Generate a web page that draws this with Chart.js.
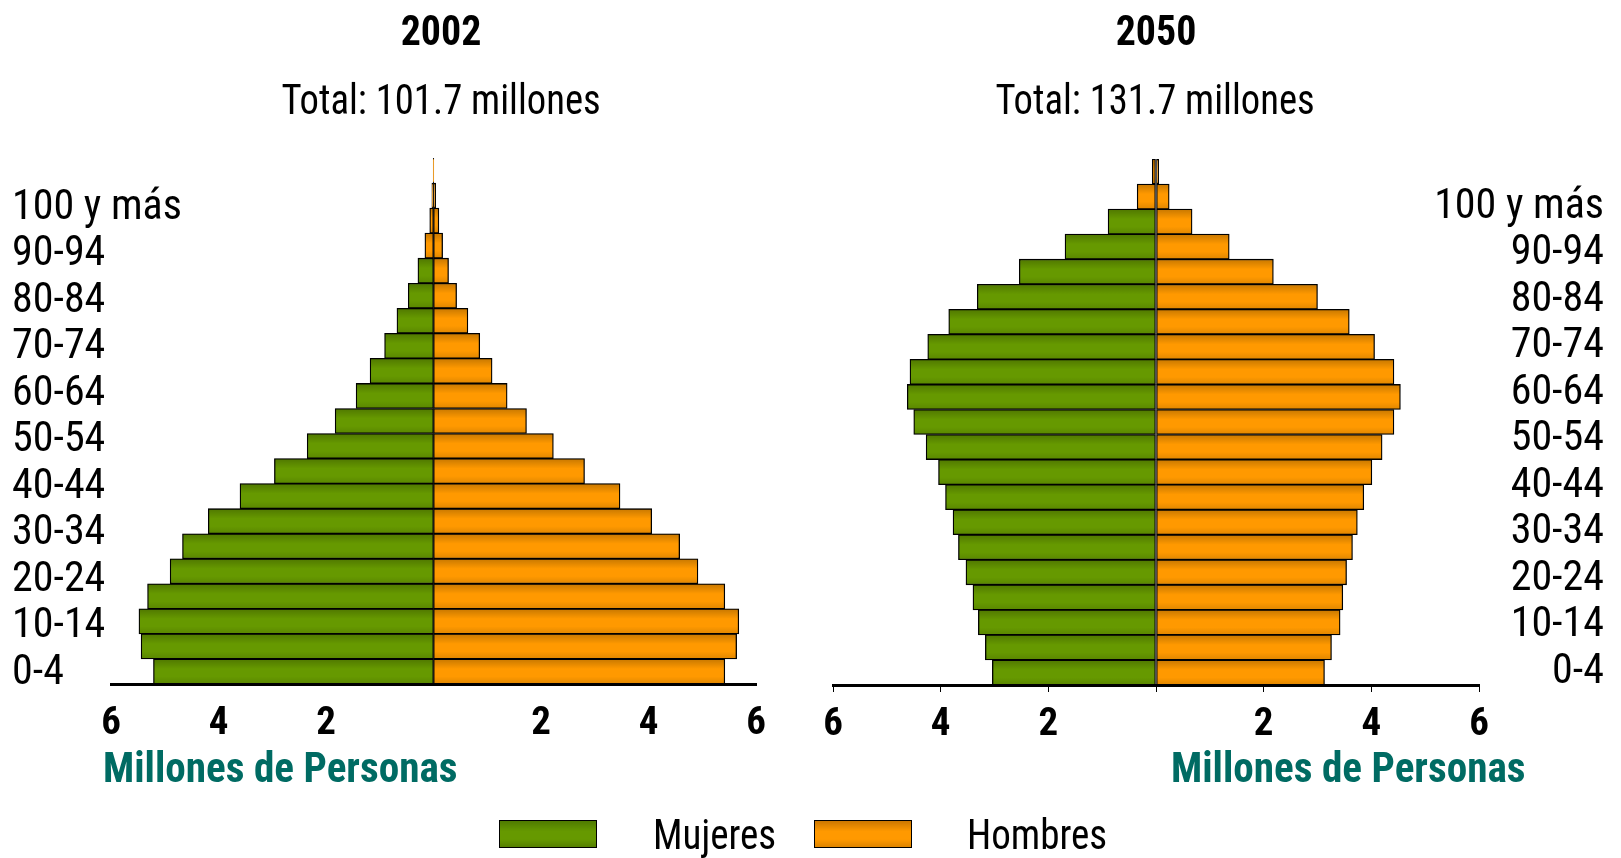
<!DOCTYPE html>
<html lang="es">
<head>
<meta charset="utf-8">
<title>Pirámides de población 2002 y 2050</title>
<script src="https://cdn.jsdelivr.net/npm/chart.js@4.4.1/dist/chart.umd.min.js"></script>
<style>
  body { margin: 0; background: #fff; }
  #page { position: relative; width: 1621px; height: 858px; overflow: hidden;
          font-family: 'Roboto Condensed', 'Open Sans Condensed', sans-serif; }
  canvas { position: absolute; top: 0; }
  .txt { position: absolute; white-space: nowrap; line-height: 48px; height: 48px; color: #000; }
  .title { font-size: 42px; font-weight: bold; text-align: center; width: 400px; transform: scaleX(0.95); }
  .sub { font-size: 42px; text-align: center; width: 500px; transform: scaleX(0.92); }
  .axisTitle { font-size: 42px; font-weight: bold; color: #006b63; transform: scaleX(0.98); transform-origin: left; }
  .legBox { position: absolute; width: 96px; height: 26px; border: 1px solid #000; }
  .legTxt { font-size: 42px; transform: scaleX(0.93); transform-origin: left; }
</style>
</head>
<body>
<div id="page">
  <canvas id="pyr2002" width="800" height="858" style="left:0"></canvas>
  <canvas id="pyr2050" width="811" height="858" style="left:810px"></canvas>

  <div class="txt title" style="left:241px; top:7px">2002</div>
  <div class="txt sub" style="left:191px; top:76px">Total: 101.7 millones</div>
  <div class="txt title" style="left:956px; top:7px">2050</div>
  <div class="txt sub" style="left:905px; top:76px">Total: 131.7 millones</div>

  <div class="txt axisTitle" style="left:103px; top:744px">Millones de Personas</div>
  <div class="txt axisTitle" style="left:1171px; top:744px">Millones de Personas</div>

  <div class="legBox" style="left:499px; top:820px; background:linear-gradient(#4f7a00,#669900 40%,#669900 70%,#557f00)"></div>
  <div class="txt legTxt" style="left:653px; top:811px">Mujeres</div>
  <div class="legBox" style="left:814px; top:820px; background:linear-gradient(#cc7700,#ff9900 40%,#ff9900 70%,#dd8400)"></div>
  <div class="txt legTxt" style="left:967px; top:811px">Hombres</div>
</div>

<script>
// age groups, youngest first
const ageGroups = ['0-4', '5-9', '10-14', '15-19', '20-24', '25-29', '30-34', '35-39', '40-44',
  '45-49', '50-54', '55-59', '60-64', '65-69', '70-74', '75-79', '80-84', '85-89', '90-94',
  '95-99', '100 y más'];
// labels shown beside each pyramid
const ageLabels = ['0-4', '10-14', '20-24', '30-34', '40-44', '50-54', '60-64', '70-74',
  '80-84', '90-94', '100 y más'];
const xTicks = [-6, -4, -2, 0, 2, 4, 6];

// millions of people
const mujeres2002 = [5.21, 5.44, 5.48, 5.32, 4.90, 4.67, 4.19, 3.60, 2.96, 2.35, 1.83, 1.44,
  1.18, 0.91, 0.68, 0.47, 0.29, 0.16, 0.07, 0.03, 0.005];
const hombres2002 = [5.42, 5.64, 5.68, 5.42, 4.92, 4.58, 4.06, 3.47, 2.81, 2.23, 1.73, 1.37,
  1.09, 0.86, 0.64, 0.43, 0.28, 0.17, 0.10, 0.04, 0.005];
const mujeres2050 = [3.04, 3.17, 3.30, 3.40, 3.53, 3.67, 3.77, 3.91, 4.04, 4.27, 4.50, 4.62,
  4.57, 4.24, 3.85, 3.32, 2.54, 1.69, 0.89, 0.35, 0.07];
const hombres2050 = [3.13, 3.26, 3.42, 3.47, 3.54, 3.65, 3.74, 3.86, 4.01, 4.20, 4.42, 4.54,
  4.42, 4.06, 3.59, 3.00, 2.18, 1.36, 0.67, 0.245, 0.05];

const GREEN = '#669900';
const ORANGE = '#ff9900';
const FONT = "'Roboto Condensed', 'Open Sans Condensed', sans-serif";

// darker bands at top and bottom of each bar, like the original's shading
const barShading = {
  id: 'barShading',
  afterDatasetsDraw(chart) {
    const ctx = chart.ctx;
    chart.data.datasets.forEach((ds, i) => {
      chart.getDatasetMeta(i).data.forEach(bar => {
        const p = bar.getProps(['x', 'y', 'base', 'height'], true);
        const w = Math.abs(p.x - p.base);
        if (w < 1) return;
        const top = p.y - p.height / 2;
        const g = ctx.createLinearGradient(0, top, 0, top + p.height);
        g.addColorStop(0, 'rgba(0,0,0,0.22)');
        g.addColorStop(0.4, 'rgba(0,0,0,0)');
        g.addColorStop(0.7, 'rgba(0,0,0,0)');
        g.addColorStop(1, 'rgba(0,0,0,0.12)');
        ctx.save();
        ctx.fillStyle = g;
        ctx.fillRect(Math.min(p.x, p.base), top, w, p.height);
        ctx.restore();
      });
    });
  }
};

function makePyramid(id, mujeres, hombres, cfg) {
  new Chart(document.getElementById(id), {
    type: 'bar',
    data: {
      labels: ageGroups,
      datasets: [{
        label: 'Mujeres',
        data: mujeres.map(v => -v),
        // the oldest groups are drawn orange on both sides in the original
        backgroundColor: ctx => ctx.dataIndex >= cfg.orangeFrom ? ORANGE : GREEN
      }, {
        label: 'Hombres',
        data: hombres,
        backgroundColor: ORANGE
      }]
    },
    options: {
      indexAxis: 'y',
      responsive: false,
      animation: false,
      layout: { padding: cfg.padding },
      datasets: {
        bar: {
          categoryPercentage: 1,
          barPercentage: 1,
          borderColor: '#000',
          borderWidth: 1.3,
          borderSkipped: false
        }
      },
      plugins: { legend: { display: false }, tooltip: { enabled: false } },
      scales: {
        x: {
          type: 'linear',
          stacked: true,
          min: -6,
          max: 6,
          afterBuildTicks: s => { s.ticks = xTicks.map(v => ({ value: v })); },
          afterFit: s => { s.height = 60; },
          grid: {
            display: cfg.tickMarks,
            drawOnChartArea: false,
            drawTicks: cfg.tickMarks,
            tickLength: 7,
            color: '#000'
          },
          border: { display: true, color: '#000', width: 3 },
          ticks: {
            autoSkip: false,
            maxRotation: 0,
            padding: cfg.xPad,
            color: '#000',
            font: { family: FONT, size: 39, weight: 'bold' },
            callback: v => v === 0 ? '' : Math.abs(v)
          }
        },
        y: {
          type: 'category',
          stacked: true,
          reverse: true,
          display: false
        },
        // age labels: a zero-width mirrored axis so long labels are not clipped
        yLab: {
          type: 'linear',
          position: cfg.labelSide,
          offset: false,
          min: cfg.labMin,
          max: cfg.labMax,
          afterBuildTicks: s => { s.ticks = ageLabels.map((l, i) => ({ value: i })); },
          afterFit: s => { s.width = 0; },
          grid: { display: false, drawTicks: false, offset: false },
          border: { display: false },
          ticks: {
            autoSkip: false,
            mirror: true,
            crossAlign: 'near',
            padding: cfg.labelShift,
            color: '#000',
            font: { family: FONT, size: 42, lineHeight: 1 },
            callback: v => ageLabels[v]
          }
        }
      }
    },
    plugins: [barShading]
  });
}

makePyramid('pyr2002', mujeres2002, hombres2002, {
  orangeFrom: 17,
  padding: { left: 111, right: 44, top: 158, bottom: 114 },
  labelSide: 'left',
  labelShift: -99,
  labMin: -0.233,
  labMax: 11.08,
  tickMarks: false,
  xPad: 17
});

makePyramid('pyr2050', mujeres2050, hombres2050, {
  orangeFrom: 19,
  padding: { left: 23, right: 142, top: 159, bottom: 113 },
  labelSide: 'right',
  labelShift: 125,
  labMin: -0.27,
  labMax: 11.04,
  tickMarks: true,
  xPad: 10
});
</script>
</body>
</html>
